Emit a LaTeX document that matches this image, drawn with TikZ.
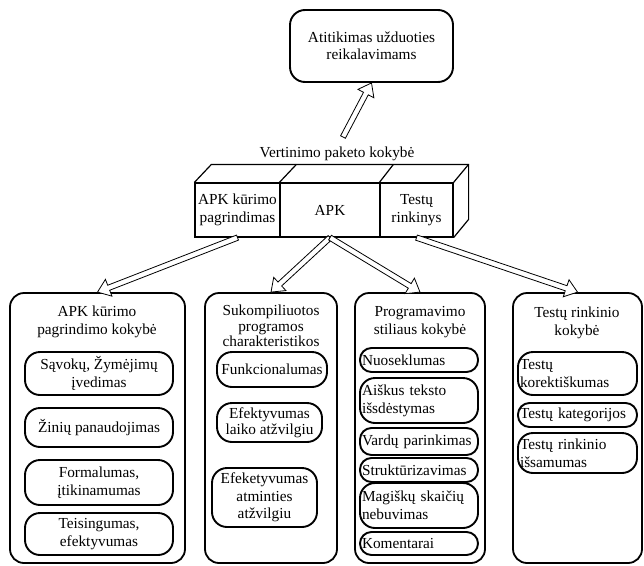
\documentclass[tikz,border=0pt]{standalone}
\usepackage{fontspec}
\setmainfont{Liberation Serif}
\usetikzlibrary{calc}
\newcommand\blockarrow[2]{%
  \coordinate (ah) at ($(#2)!12pt!(#1)$);
  \draw[line width=0.8pt, fill=white, line join=miter]
    ($(#1)!2.7pt!90:(#2)$) -- ($(ah)!2.7pt!90:(#2)$) -- ($(ah)!9pt!90:(#2)$) -- (#2)
    -- ($(ah)!9pt!-90:(#2)$) -- ($(ah)!2.7pt!-90:(#2)$) -- ($(#1)!2.7pt!-90:(#2)$) -- cycle;}
\begin{document}
\begin{tikzpicture}[x=1pt,y=-1pt,
  txt/.style={font=\fontsize{15.3}{18}\selectfont, align=center, inner sep=0pt},
  bigbox/.style={draw, line width=1.8pt, rounded corners=14pt, minimum width=#1, minimum height=270pt, inner sep=0pt},
  ibox/.style={draw, line width=1.9pt, rounded corners=15pt, inner sep=0pt, align=center,
               font=\fontsize{15.3}{18}\selectfont},
  lbox/.style={ibox, align=left, text width=114pt, inner xsep=2pt},
  slim/.style={rounded corners=11.5pt},
  cubeface/.style={draw, line width=1.2pt, inner sep=0pt, minimum height=54pt, align=center,
               font=\fontsize{15.3}{18}\selectfont}
]
\useasboundingbox (0,0) rectangle (644,565);

% top box
\node[draw, line width=1.9pt, rounded corners=15pt, minimum width=163pt, minimum height=72pt,
      txt, font=\fontsize{15.3}{17}\selectfont] (top) at (371.5,46) {Atitikimas užduoties\\reikalavimams};

% label
\node[txt, anchor=base] (lbl) at (337,157) {Vertinimo paketo kokybė};
\coordinate (ut) at (343,137);
\blockarrow{ut}{top.south}

% cube
\node[cubeface, minimum width=85pt] (cubeA) at (237.5,210) {APK kūrimo\\pagrindimas};
\node[cubeface, minimum width=100pt] (cubeB) at (330,210) {APK};
\node[cubeface, minimum width=73pt] (cubeC) at (416.5,210) {Testų\\rinkinys};
\draw[line width=1.2pt, line join=miter] (cubeA.north west) -- ++(17,-18) -- ($(cubeC.north east)+(15,-18)$)
   -- ++(0,55) -- (cubeC.south east);
\draw[line width=1.2pt] (cubeC.north east) -- ++(15,-18);
\draw[line width=1.2pt] (cubeB.north west) -- ++(17,-18);
\draw[line width=1.2pt] (cubeC.north west) -- ++(14,-18);

% big boxes
\node[bigbox=175pt] (box1) at (97.5,428) {};
\node[bigbox=132pt] (box2) at (271,428) {};
\node[bigbox=130pt] (box3) at (420,428) {};
\node[bigbox=129pt] (box4) at (577.5,428) {};

% arrows
\blockarrow{cubeA.south}{box1.north}
\blockarrow{cubeB.south}{box2.north}
\blockarrow{cubeB.south}{box3.north}
\blockarrow{cubeC.south}{box4.north}

% titles
\node[txt] (t1) at (97,322) {APK kūrimo\\pagrindimo kokybė};
\node[txt, font=\fontsize{15.3}{15.5}\selectfont] (t2) at (271,326) {Sukompiliuotos\\programos\\charakteristikos};
\node[txt] (t3) at (420,322) {Programavimo\\stiliaus kokybė};
\node[txt] (t4) at (577,323) {Testų rinkinio\\kokybė};

% box1 inner
\node[ibox, minimum width=148pt, minimum height=43pt] (a1) at (99,373.5) {Sąvokų, Žymėjimų\\įvedimas};
\node[ibox, minimum width=148pt, minimum height=39pt] (a2) at (99,427.5) {Žinių panaudojimas};
\node[ibox, minimum width=148pt, minimum height=45pt] (a3) at (99,482.5) {Formalumas,\\įtikinamumas};
\node[ibox, minimum width=148pt, minimum height=42pt] (a4) at (99,534) {Teisingumas,\\efektyvumas};

% box2 inner
\node[ibox, minimum width=110pt, minimum height=35pt] (b1) at (272,369.5) {Funkcionalumas};
\node[ibox, minimum width=105pt, minimum height=39pt, font=\fontsize{15.3}{16}\selectfont] (b2) at (269.5,422.5) {Efektyvumas\\laiko atžvilgiu};
\node[ibox, minimum width=105pt, minimum height=59pt, font=\fontsize{15.3}{17.5}\selectfont] (b3) at (264.5,497.5) {Efeketyvumas\\atminties\\atžvilgiu};

% box3 inner
\node[lbox, slim, minimum height=24pt] (c1) at (419,360) {Nuoseklumas};
\node[lbox, minimum height=45pt] (c2) at (419,400.5) {Aiškus teksto\\išsdėstymas};
\node[lbox, slim, minimum height=27pt] (c3) at (419,441.5) {Vardų parinkimas};
\node[lbox, slim, minimum height=24pt] (c4) at (419,470) {Struktūrizavimas};
\node[lbox, minimum height=45pt] (c5) at (419,505.5) {Magiškų skaičių\\nebuvimas};
\node[lbox, slim, minimum height=23pt] (c6) at (419,543.5) {Komentarai};

% box4 inner
\node[lbox, text width=115pt, minimum height=43pt] (d1) at (577.5,373.5) {Testų\\korektiškumas};
\node[lbox, slim, text width=115pt, minimum height=24pt] (d2) at (577.5,415) {Testų kategorijos};
\node[lbox, text width=115pt, minimum height=40pt] (d3) at (577.5,453) {Testų rinkinio\\išsamumas};
\end{tikzpicture}
\end{document}
